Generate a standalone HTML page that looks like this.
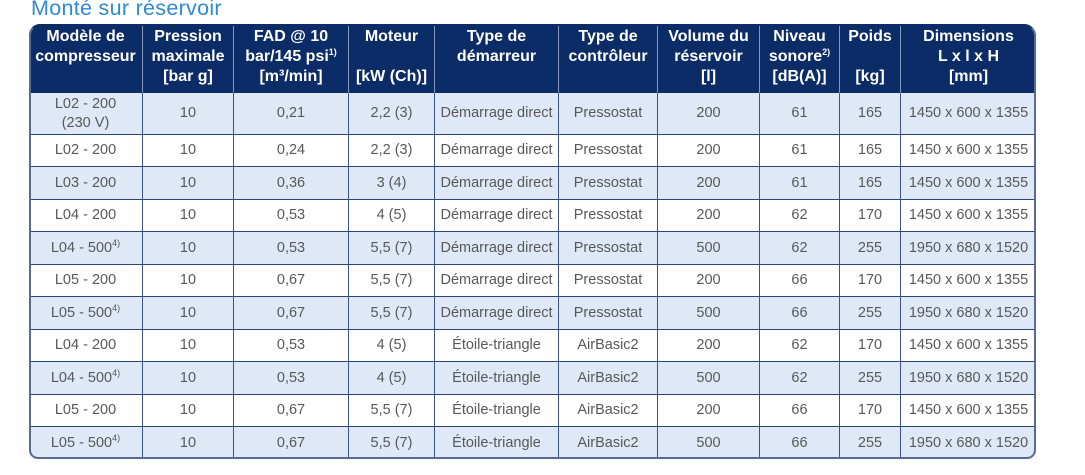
<!DOCTYPE html>
<html>
<head>
<meta charset="utf-8">
<style>
  html, body { margin:0; padding:0; }
  body { width:1085px; height:475px; background:#ffffff; position:relative; overflow:hidden;
         font-family:"Liberation Sans", sans-serif; }
  .title { position:absolute; left:31px; top:-3px; font-size:21.5px; line-height:22px; color:#2d8bd3;
           white-space:nowrap; letter-spacing:0.3px; }
  .tbl { position:absolute; left:29px; top:24px; width:1007px; height:435px;
         border-radius:11px 12px 9px 9px; overflow:hidden; background:#fff;
         display:grid;
         grid-template-columns:114px 91px 115px 86px 124px 99px 102px 80px 61px 135px;
         grid-template-rows:69px 42px 32px 33px 32px 33px 32px 33px 32px 33px 32px 32px; }
  .h { background:#0c2c68; color:#fff; font-weight:bold; font-size:16px; line-height:20px;
       text-align:center; padding-top:3px; box-sizing:border-box; border-right:1.5px solid #8596b8;
       white-space:nowrap; }
  .h.last { border-right:none; }
  sup { font-size:9px; line-height:0; vertical-align:6px; }
  .c { box-sizing:border-box; display:flex; align-items:center; justify-content:center; text-align:center;
       font-size:14.5px; line-height:19px; color:#585858; white-space:nowrap;
       border-right:1.6px solid #3b5483; border-bottom:1.6px solid #2a4576; }
  .c.e { border-right:none; }
  .l { background:#dfe8f6; }
  .w { background:#ffffff; }
  .lastrow { border-bottom:none; }
  .frame { position:absolute; left:29px; top:24px; width:1007px; height:435px; box-sizing:border-box;
           border:2px solid #566c93; border-top-color:#0c2c68; border-radius:11px 12px 9px 9px; pointer-events:none; }
</style>
</head>
<body>
<div class="title">Monté sur réservoir</div>
<div class="tbl">
  <div class="h">Modèle de<br>compresseur</div>
  <div class="h">Pression<br>maximale<br>[bar g]</div>
  <div class="h">FAD @ 10<br>bar/145 psi<sup>1)</sup><br>[m³/min]</div>
  <div class="h">Moteur<br>&nbsp;<br>[kW (Ch)]</div>
  <div class="h">Type de<br>démarreur</div>
  <div class="h">Type de<br>contrôleur</div>
  <div class="h">Volume du<br>réservoir<br>[l]</div>
  <div class="h">Niveau<br>sonore<sup>2)</sup><br>[dB(A)]</div>
  <div class="h">Poids<br>&nbsp;<br>[kg]</div>
  <div class="h last">Dimensions<br>L x l x H<br>[mm]</div>

  <div class="c l"><span>L02 - 200<br>(230 V)</span></div><div class="c l">10</div><div class="c l">0,21</div><div class="c l">2,2 (3)</div><div class="c l">Démarrage direct</div><div class="c l">Pressostat</div><div class="c l">200</div><div class="c l">61</div><div class="c l">165</div><div class="c l e">1450 x 600 x 1355</div>

  <div class="c w">L02 - 200</div><div class="c w">10</div><div class="c w">0,24</div><div class="c w">2,2 (3)</div><div class="c w">Démarrage direct</div><div class="c w">Pressostat</div><div class="c w">200</div><div class="c w">61</div><div class="c w">165</div><div class="c w e">1450 x 600 x 1355</div>

  <div class="c l">L03 - 200</div><div class="c l">10</div><div class="c l">0,36</div><div class="c l">3 (4)</div><div class="c l">Démarrage direct</div><div class="c l">Pressostat</div><div class="c l">200</div><div class="c l">61</div><div class="c l">165</div><div class="c l e">1450 x 600 x 1355</div>

  <div class="c w">L04 - 200</div><div class="c w">10</div><div class="c w">0,53</div><div class="c w">4 (5)</div><div class="c w">Démarrage direct</div><div class="c w">Pressostat</div><div class="c w">200</div><div class="c w">62</div><div class="c w">170</div><div class="c w e">1450 x 600 x 1355</div>

  <div class="c l"><span>L04 - 500<sup>4)</sup></span></div><div class="c l">10</div><div class="c l">0,53</div><div class="c l">5,5 (7)</div><div class="c l">Démarrage direct</div><div class="c l">Pressostat</div><div class="c l">500</div><div class="c l">62</div><div class="c l">255</div><div class="c l e">1950 x 680 x 1520</div>

  <div class="c w">L05 - 200</div><div class="c w">10</div><div class="c w">0,67</div><div class="c w">5,5 (7)</div><div class="c w">Démarrage direct</div><div class="c w">Pressostat</div><div class="c w">200</div><div class="c w">66</div><div class="c w">170</div><div class="c w e">1450 x 600 x 1355</div>

  <div class="c l"><span>L05 - 500<sup>4)</sup></span></div><div class="c l">10</div><div class="c l">0,67</div><div class="c l">5,5 (7)</div><div class="c l">Démarrage direct</div><div class="c l">Pressostat</div><div class="c l">500</div><div class="c l">66</div><div class="c l">255</div><div class="c l e">1950 x 680 x 1520</div>

  <div class="c w">L04 - 200</div><div class="c w">10</div><div class="c w">0,53</div><div class="c w">4 (5)</div><div class="c w">Étoile-triangle</div><div class="c w">AirBasic2</div><div class="c w">200</div><div class="c w">62</div><div class="c w">170</div><div class="c w e">1450 x 600 x 1355</div>

  <div class="c l"><span>L04 - 500<sup>4)</sup></span></div><div class="c l">10</div><div class="c l">0,53</div><div class="c l">4 (5)</div><div class="c l">Étoile-triangle</div><div class="c l">AirBasic2</div><div class="c l">500</div><div class="c l">62</div><div class="c l">255</div><div class="c l e">1950 x 680 x 1520</div>

  <div class="c w">L05 - 200</div><div class="c w">10</div><div class="c w">0,67</div><div class="c w">5,5 (7)</div><div class="c w">Étoile-triangle</div><div class="c w">AirBasic2</div><div class="c w">200</div><div class="c w">66</div><div class="c w">170</div><div class="c w e">1450 x 600 x 1355</div>

  <div class="c l lastrow"><span>L05 - 500<sup>4)</sup></span></div><div class="c l lastrow">10</div><div class="c l lastrow">0,67</div><div class="c l lastrow">5,5 (7)</div><div class="c l lastrow">Étoile-triangle</div><div class="c l lastrow">AirBasic2</div><div class="c l lastrow">500</div><div class="c l lastrow">66</div><div class="c l lastrow">255</div><div class="c l e lastrow">1950 x 680 x 1520</div>
</div>
<div class="frame"></div>
</body>
</html>
